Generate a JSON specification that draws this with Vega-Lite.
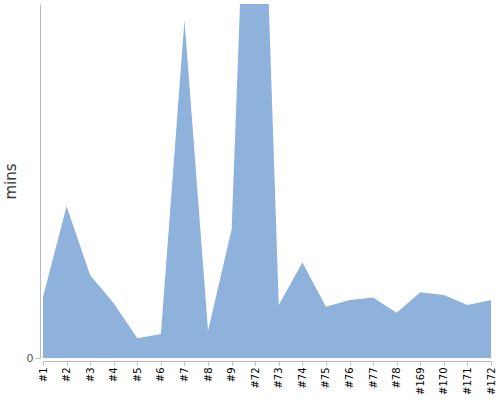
{
  "$schema": "https://vega.github.io/schema/vega-lite/v6.json",
  "width": 448,
  "height": 354,
  "autosize": "none",
  "padding": {"left": 43, "top": 4, "right": 9, "bottom": 42},
  "data": {
    "values": [
      {"game": "#1", "mins": 17.2},
      {"game": "#2", "mins": 42.9},
      {"game": "#3", "mins": 23.4},
      {"game": "#4", "mins": 15.5},
      {"game": "#5", "mins": 5.6},
      {"game": "#6", "mins": 6.8},
      {"game": "#7", "mins": 95.5},
      {"game": "#8", "mins": 7.7},
      {"game": "#9", "mins": 36.4},
      {"game": "#72", "mins": 215},
      {"game": "#73", "mins": 15.0},
      {"game": "#74", "mins": 27.0},
      {"game": "#75", "mins": 14.5},
      {"game": "#76", "mins": 16.4},
      {"game": "#77", "mins": 17.1},
      {"game": "#78", "mins": 12.8},
      {"game": "#169", "mins": 18.6},
      {"game": "#170", "mins": 17.8},
      {"game": "#171", "mins": 15.0},
      {"game": "#172", "mins": 16.4}
    ]
  },
  "mark": {"type": "area", "clip": true, "color": "#8fb2dc", "opacity": 1},
  "encoding": {
    "x": {
      "field": "game",
      "type": "ordinal",
      "sort": null,
      "scale": {"type": "point", "padding": 0},
      "axis": {
        "title": null,
        "labelAngle": -90,
        "labelFontSize": 10,
        "labelColor": "#000",
        "labelFont": "DejaVu Sans",
        "domainColor": "#bbb",
        "tickColor": "#bbb",
        "tickSize": 4,
        "offset": 3,
        "grid": false
      }
    },
    "y": {
      "field": "mins",
      "type": "quantitative",
      "scale": {"domain": [0, 100], "nice": false},
      "axis": {
        "title": "mins",
        "titleFontSize": 15,
        "titleFont": "DejaVu Sans",
        "titleFontWeight": "normal",
        "titleColor": "#333",
        "titlePadding": 8,
        "values": [0],
        "labelFontSize": 11,
        "labelFont": "DejaVu Sans",
        "labelColor": "#555",
        "domainColor": "#bbb",
        "tickColor": "#bbb",
        "tickSize": 5,
        "offset": 3,
        "grid": false
      }
    }
  },
  "config": {"view": {"stroke": null}}
}
